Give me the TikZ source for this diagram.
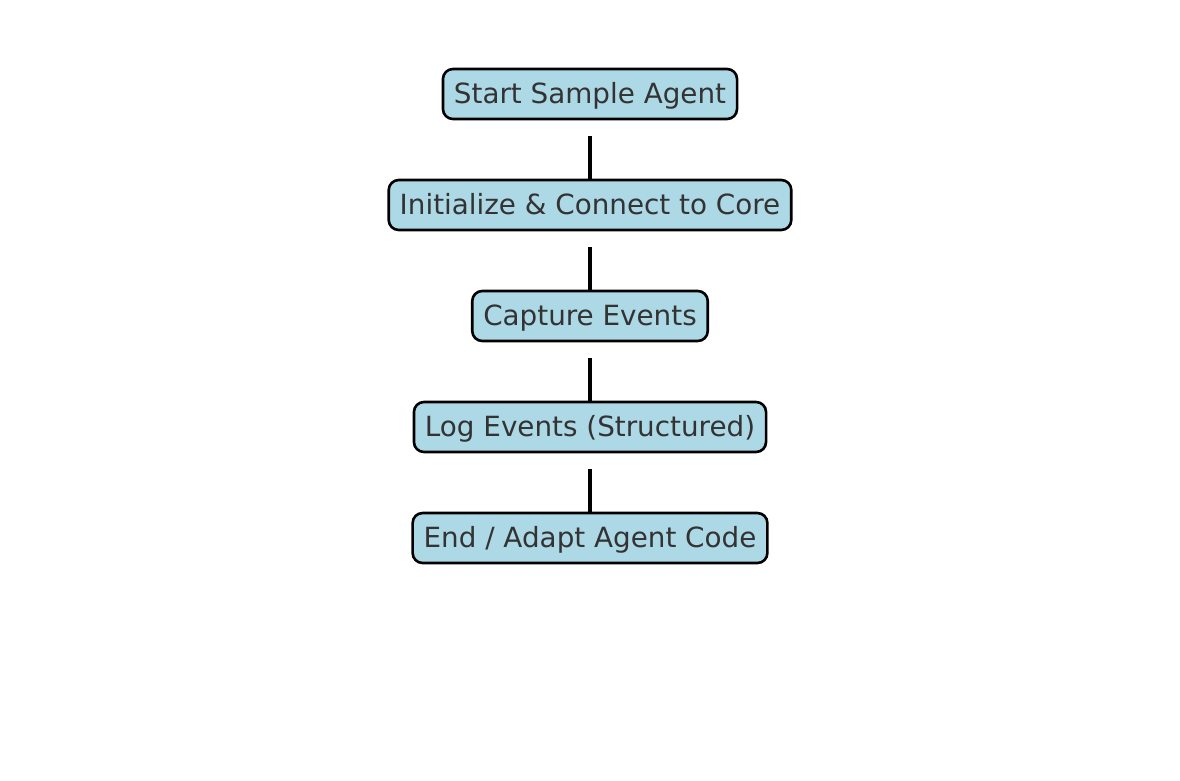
\documentclass[tikz,border=0pt]{standalone}
\usepackage{fontspec}
\setmainfont{DejaVu Sans}
\definecolor{boxfill}{HTML}{ADD8E6}
\definecolor{txt}{HTML}{333333}
\tikzset{
  stepbox/.style={draw=black, line width=2.6pt, fill=boxfill, rounded corners=10pt,
    minimum height=50pt, inner xsep=11pt, inner ysep=0pt, text=txt,
    text height=22.5pt, text depth=4.5pt,
    font=\fontsize{27.8pt}{33pt}\selectfont, anchor=center},
  link/.style={draw=black, line width=3.4pt}
}
\begin{document}
\begin{tikzpicture}[x=1pt,y=-1pt]
\useasboundingbox (0,0) rectangle (1180,780);
\node[stepbox] (a) at (590,94) {Start Sample Agent};
\node[stepbox] (b) at (590,205) {Initialize \& Connect to Core};
\node[stepbox] (c) at (590,316) {Capture Events};
\node[stepbox] (d) at (590,427) {Log Events (Structured)};
\node[stepbox] (e) at (590,538) {End / Adapt Agent Code};
\draw[link] ([yshift=-16pt]a.south) -- (b.north);
\draw[link] ([yshift=-16pt]b.south) -- (c.north);
\draw[link] ([yshift=-16pt]c.south) -- (d.north);
\draw[link] ([yshift=-16pt]d.south) -- (e.north);
\end{tikzpicture}
\end{document}
